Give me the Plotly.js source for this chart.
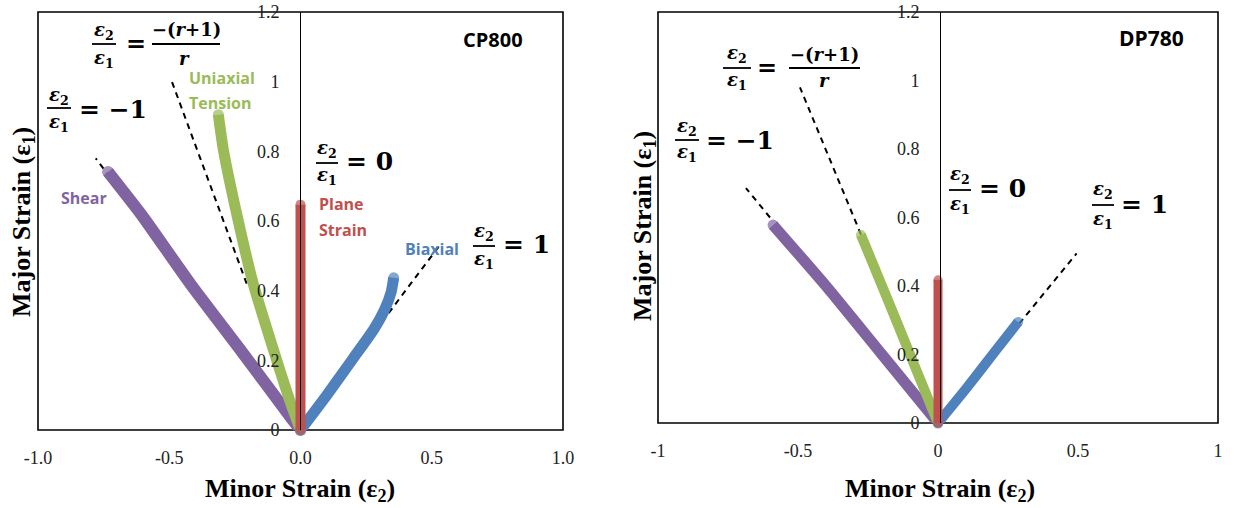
<!DOCTYPE html>
<html><head><meta charset="utf-8">
<script src="https://cdn.plot.ly/plotly-3.0.1.min.js"></script>
<style>html,body{margin:0;padding:0;background:#fff}#chart{width:1234px;height:508px}</style>
</head><body><div id="chart"></div>
<script>
// ---------- DATA ----------
// CP800 (left panel)
const cpShearX = [0, -0.038, -0.229, -0.42, -0.6, -0.68, -0.733];
const cpShearY = [0, 0.037, 0.23, 0.42, 0.612, 0.69, 0.741];
const cpUniX = [0, -0.038, -0.103, -0.18, -0.24, -0.294, -0.313];
const cpUniY = [0, 0.078, 0.23, 0.42, 0.61, 0.805, 0.905];
const cpPlaneX = [0, 0];
const cpPlaneY = [0, 0.647];
const cpBiaxX = [0, 0.1, 0.2, 0.28, 0.32, 0.345, 0.355];
const cpBiaxY = [0, 0.1, 0.205, 0.29, 0.345, 0.395, 0.437];
const cpRefShearX = [-0.7, -0.78];
const cpRefShearY = [0.7, 0.78];
const cpRefUniX = [-0.205, -0.49];
const cpRefUniY = [0.42, 1.0];
const cpRefBiaxX = [0.26, 0.535];
const cpRefBiaxY = [0.26, 0.535];
// DP780 (right panel)
const dpShearX = [0, -0.2, -0.4, -0.589];
const dpShearY = [0, 0.2, 0.4, 0.578];
const dpUniX = [0, -0.082, -0.179, -0.275];
const dpUniY = [0, 0.164, 0.359, 0.549];
const dpPlaneX = [0, 0];
const dpPlaneY = [0, 0.418];
const dpBiaxX = [0, 0.1, 0.2, 0.286];
const dpBiaxY = [0, 0.1, 0.205, 0.295];
const dpRefShearX = [-0.6, -0.686];
const dpRefShearY = [0.6, 0.686];
const dpRefUniX = [-0.275, -0.493];
const dpRefUniY = [0.55, 0.98];
const dpRefBiaxX = [0.29, 0.495];
const dpRefBiaxY = [0.29, 0.495];
// Ticks
const yTickVals = [0, 0.2, 0.4, 0.6, 0.8, 1, 1.2];
const yTickText = ['0', '0.2', '0.4', '0.6', '0.8', '1', '1.2'];
const xTickVals = [-1, -0.5, 0, 0.5, 1];
const xTickTextL = ['-1.0', '-0.5', '0.0', '0.5', '1.0'];
const xTickTextR = ['-1', '-0.5', '0', '0.5', '1'];

// ---------- STYLE ----------
const C = {shear:'#8064A2', uni:'#9BBB59', plane:'#C0504D', biax:'#4F81BD'};
const W = 1234, H = 508;
const px = v => v / W, py = v => 1 - v / H;
const SERIF = 'Liberation Serif, Times New Roman, serif';
const MATH = 'DejaVu Serif, serif';
const SANS = 'Open Sans, Liberation Sans, sans-serif';
const NB = '\u00A0';

function curve(x, y, color, xa, ya, w) {
  const sizes = x.map((_, i) => (i === 0 || i === x.length - 1) ? w : 0);
  return {x, y, xaxis: xa, yaxis: ya, type: 'scatter', mode: 'lines+markers',
    line: {color, width: w, shape: 'spline', smoothing: 0.6},
    marker: {color, size: sizes, line: {width: 0}}, cliponaxis: false,
    hoverinfo: 'skip', showlegend: false};
}
function dashed(x, y, xa, ya) {
  return {x, y, xaxis: xa, yaxis: ya, type: 'scatter', mode: 'lines',
    line: {color: '#000', width: 2, dash: '6px,5px'}, hoverinfo: 'skip', showlegend: false};
}

const traces = [
  dashed(cpRefShearX, cpRefShearY, 'x', 'y'),
  dashed(cpRefUniX, cpRefUniY, 'x', 'y'),
  dashed(cpRefBiaxX, cpRefBiaxY, 'x', 'y'),
  curve(cpShearX, cpShearY, C.shear, 'x', 'y', 12),
  curve(cpUniX, cpUniY, C.uni, 'x', 'y', 11),
  curve(cpBiaxX, cpBiaxY, C.biax, 'x', 'y', 11),
  curve(cpPlaneX, cpPlaneY, C.plane, 'x', 'y', 10),
  dashed(dpRefShearX, dpRefShearY, 'x2', 'y2'),
  dashed(dpRefUniX, dpRefUniY, 'x2', 'y2'),
  dashed(dpRefBiaxX, dpRefBiaxY, 'x2', 'y2'),
  curve(dpShearX, dpShearY, C.shear, 'x2', 'y2', 11),
  curve(dpUniX, dpUniY, C.uni, 'x2', 'y2', 10),
  curve(dpBiaxX, dpBiaxY, C.biax, 'x2', 'y2', 10),
  curve(dpPlaneX, dpPlaneY, C.plane, 'x2', 'y2', 9)
];

const annotations = [];
const shapes = [];
function txt(x, y, text, size, color, anchor, family, angle) {
  annotations.push({xref: 'paper', yref: 'paper', x: px(x), y: py(y), text,
    showarrow: false, xanchor: anchor || 'center', yanchor: 'middle',
    textangle: angle || 0, font: {family: family || MATH, size, color: color || '#000'}});
}
function bar(x0, x1, y) {
  shapes.push({type: 'line', xref: 'paper', yref: 'paper', x0: px(x0), x1: px(x1),
    y0: py(y), y1: py(y), line: {color: '#000', width: 1.8}});
}
const E2 = '<b><i>ε</i><sub>2</sub></b>';
const E1 = '<b><i>ε</i><sub>1</sub></b>';
function ratio(cx, yNum, yBar, yDen, half, fs) {
  txt(cx, yNum, E2, fs); bar(cx - half, cx + half, yBar); txt(cx, yDen, E1, fs);
}
const FS = 18;
// Left panel equations
ratio(104, 31, 44, 59, 12, FS);
txt(136, 44, '<b>=</b>', 24);
txt(186, 29, '<b>−(<i>r</i>+1)</b>', 18); bar(152, 220, 44); txt(184, 58, '<b><i>r</i></b>', 18);
ratio(59, 96, 108, 123, 12, FS);
txt(77, 109, '<b>=' + NB + '−1</b>', 25, '#000', 'left');
ratio(327, 149, 163, 176, 11, FS);
txt(344, 161, '<b>=' + NB + '0</b>', 25, '#000', 'left');
ratio(484, 232, 246, 260, 11, FS);
txt(501, 244, '<b>=' + NB + '1</b>', 25, '#000', 'left');
// Right panel equations
ratio(737, 54, 68, 81, 14, FS);
txt(767, 68, '<b>=</b>', 24);
txt(824, 54, '<b>−(<i>r</i>+1)</b>', 18); bar(789, 860, 68); txt(824, 81, '<b><i>r</i></b>', 18);
ratio(687, 127, 140, 153, 12, FS);
txt(704, 141, '<b>=' + NB + '−1</b>', 25, '#000', 'left');
ratio(960, 175, 190, 205, 11, FS);
txt(977, 188, '<b>=' + NB + '0</b>', 25, '#000', 'left');
ratio(1103, 190, 205, 220, 11, FS);
txt(1119, 205, '<b>=' + NB + '1</b>', 25, '#000', 'left');

// Labels
txt(187, 78, '<b>Uniaxial</b>', 16, C.uni, 'left', SANS);
txt(187, 103, '<b>Tension</b>', 16, C.uni, 'left', SANS);
txt(84, 198, '<b>Shear</b>', 16, C.shear, 'center', SANS);
txt(317, 204, '<b>Plane</b>', 16, C.plane, 'left', SANS);
txt(317, 230, '<b>Strain</b>', 16, C.plane, 'left', SANS);
txt(432, 249, '<b>Biaxial</b>', 16, C.biax, 'center', SANS);
txt(493, 40, '<b>CP800</b>', 20, '#000', 'center', SANS);
txt(1151, 38, '<b>DP780</b>', 21, '#000', 'center', SANS);
// Axis titles
txt(23, 222, '<b>Major Strain (ε<sub>1</sub>)</b>', 26, '#000', 'center', SERIF, -90);
txt(644, 226, '<b>Major Strain (ε<sub>1</sub>)</b>', 26, '#000', 'center', SERIF, -90);
txt(300, 490, '<b>Minor Strain (ε<sub>2</sub>)</b>', 26, '#000', 'center', SERIF);
txt(940, 490, '<b>Minor Strain (ε<sub>2</sub>)</b>', 26, '#000', 'center', SERIF);

// Borders
[['x', 'y'], ['x2', 'y2']].forEach(([xa, ya]) => {
  shapes.push({type: 'rect', xref: xa + ' domain', yref: ya + ' domain', x0: 0, x1: 1, y0: 0, y1: 1,
    line: {color: '#000', width: 1.6}, layer: 'below'});
});

const tickFont = {family: SERIF, size: 18, color: '#222'};
function xAxis(dom, text, anchor) {
  return {domain: dom, range: [-1, 1], anchor, tickvals: xTickVals, ticktext: text,
    showgrid: false, zeroline: false, showline: false, ticks: 'outside', ticklen: 11,
    tickcolor: 'rgba(0,0,0,0)', tickfont: tickFont, fixedrange: true};
}
function yAxis(dom, pos) {
  return {domain: dom, range: [0, 1.2], anchor: 'free', position: pos, side: 'left',
    tickvals: yTickVals, ticktext: yTickText, showgrid: false, zeroline: false,
    showline: true, linecolor: '#000', linewidth: 1, ticks: 'outside', ticklen: 17,
    tickcolor: 'rgba(0,0,0,0)', tickfont: tickFont, fixedrange: true};
}

const layout = {
  width: W, height: H, margin: {l: 0, r: 0, t: 0, b: 0},
  paper_bgcolor: '#fff', plot_bgcolor: 'rgba(0,0,0,0)', showlegend: false,
  xaxis: xAxis([px(38), px(563)], xTickTextL, 'y'),
  yaxis: yAxis([1 - 430 / H, 1 - 12 / H], px(300)),
  xaxis2: xAxis([px(658), px(1218)], xTickTextR, 'y2'),
  yaxis2: yAxis([1 - 423 / H, 1 - 12 / H], px(940)),
  annotations, shapes
};
Plotly.newPlot('chart', traces, layout, {displayModeBar: false, staticPlot: true});
</script></body></html>
